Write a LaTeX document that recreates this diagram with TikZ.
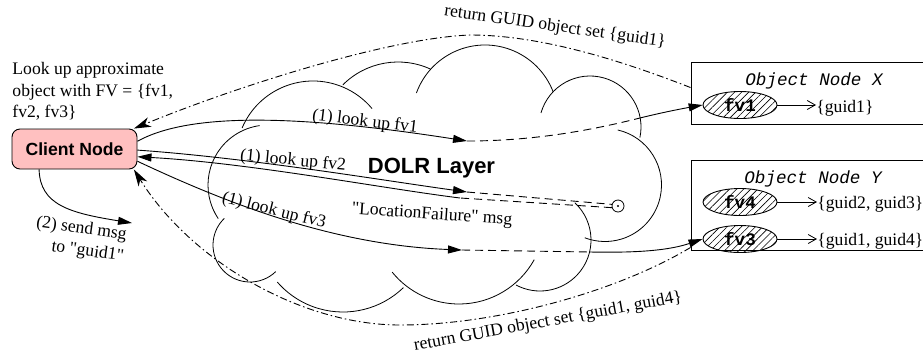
\documentclass[tikz,border=0pt]{standalone}
\usepackage{fontspec}
\setmainfont{Liberation Serif}
\setsansfont{Liberation Sans}
\setmonofont{Liberation Mono}
\newfontfamily\qf{Liberation Serif}
\usetikzlibrary{arrows.meta,patterns.meta,shapes.geometric,calc}
\newcommand\fs{\fontsize{17.6pt}{21.6pt}\selectfont}
\newcommand\dq{{\qf"}}
\definecolor{clientpink}{RGB}{255,192,192}
\newcommand\cloudarc[5]{\draw[cl] (#1,#2) ++(#4:#3) arc[start angle=#4, end angle=#5, radius=#3];}
\begin{document}
\begin{tikzpicture}[x=1pt,y=-1pt,
  line width=0.9pt,
  every node/.style={inner sep=0pt, font=\fs},
  solidarr/.style={-{Triangle[length=14pt,width=8pt]}},
  ddarr/.style={-{Stealth[length=17pt,width=10pt,inset=5pt]}, dash pattern=on 7pt off 3pt on 1.5pt off 3pt},
  dsh/.style={dash pattern=on 8pt off 5pt},
  smallarr/.style={-{Straight Barb[length=8pt,width=9pt]}},
  fvell/.style={ellipse, draw, minimum width=74pt, minimum height=27pt,
    pattern={Lines[angle=45,distance=5pt,line width=0.6pt]}, font=\fs\ttfamily\bfseries},
  objbox/.style={draw, minimum width=250pt},
  cl/.style={line width=0.8pt}
]
\useasboundingbox (0,0) rectangle (923,360);
\clip (0,0) rectangle (923,360);

% cloud (DOLR layer)
\cloudarc{313}{158}{77}{203}{320}
\cloudarc{398}{140}{78}{225}{295}
\cloudarc{485}{118}{73}{200}{339}
\cloudarc{590}{127}{51}{196}{372}
\cloudarc{605}{185}{56.5}{283}{471}
\cloudarc{540}{240}{51}{313}{478}
\cloudarc{459}{218}{86}{29}{141}
\cloudarc{343}{225}{87}{46}{139}
\cloudarc{250}{245}{37}{46}{226}
\cloudarc{268}{185}{60}{146}{262}
\node[font=\fontsize{22pt}{26pt}\selectfont\sffamily\bfseries, anchor=base] (dolr) at (431.5,173) {DOLR Layer};

% client
\node[draw, fill=clientpink, rounded corners=8pt, minimum width=125pt, minimum height=40pt,
  font=\fs\sffamily\bfseries] (client) at (74.5,149) {Client Node};
\node[anchor=north west, align=left] (query) at (12,62) {Look up approximate\\object with FV = \{fv1,\\fv2, fv3\}};

% object nodes
\node[objbox, minimum height=62pt] (boxX) at (816,93) {};
\node[font=\fs\ttfamily\itshape, anchor=base] (labX) at (814,85) {Object Node X};
\node[fvell] (fv1) at (740,105) {fv1};
\node[anchor=base west] (g1) at (816,112) {\{guid1\}};
\draw[smallarr, line width=0.8pt] (fv1.east) -- (fv1.east -| g1.west);

\node[objbox, minimum height=90pt] (boxY) at (816,205) {};
\node[font=\fs\ttfamily\itshape, anchor=base] (labY) at (813,183) {Object Node Y};
\node[fvell] (fv4) at (740,202) {fv4};
\node[fvell] (fv3) at (740,239) {fv3};
\node[anchor=base west] (g23) at (817,208) {\{guid2, guid3\}};
\node[anchor=base west] (g14) at (817,245) {\{guid1, guid4\}};
\draw[smallarr, line width=0.8pt] (fv4.east) -- (fv4.east -| g23.west);
\draw[smallarr, line width=0.8pt] (fv3.east) -- (fv3.east -| g14.west);

% sink
\node[circle, draw, minimum size=12pt, line width=0.8pt] (sink) at (618,206) {};
\fill (sink.center) circle (1.2pt);

% fv1 lookup
\coordinate (a1) at (467,141);
\coordinate (d1) at (640,118);
\draw[solidarr] (client.7.3) .. controls (190,112) and (300,115) .. (a1);
\draw[dsh] (a1) .. controls (540,141) and (600,128) .. (d1);
\draw[solidarr] (d1) .. controls (660,113) and (680,109) .. (fv1.west);
\node[rotate=-6.8] (t1) at (365,122) {(1) look up fv1};

% fv2 lookup
\coordinate (a2) at (467,192);
\coordinate (r2) at (460,198);
\draw[solidarr] (client.-1) .. controls (250,158) and (380,180) .. (a2);
\draw[dsh] (a2) -- (sink.165);
\draw[dsh] (sink.195) -- (r2);
\draw[solidarr] (r2) .. controls (380,188) and (250,163) .. (client.-7.3);
\node[rotate=-5.4] (t2) at (293,161) {(1) look up fv2};
\node[rotate=-4] (tf) at (432,215) {\dq LocationFailure\dq{} msg};

% fv3 lookup
\coordinate (a3) at (462,250);
\coordinate (d3) at (590,252);
\draw[solidarr] (client.-11.8) .. controls (220,200) and (330,245) .. (a3);
\draw[dsh] (a3) -- (d3);
\draw[solidarr] (d3) .. controls (640,253) and (670,250) .. (fv3.west);
\node[rotate=-14] (t3) at (274,211) {(1) look up fv3};

% send msg
\coordinate (s2) at (132,223);
\draw[solidarr] (client.-150.6) .. controls (40,205) and (70,213) .. (s2);
\node[rotate=-8, align=right] (tsend) at (80,240) {(2) send msg\\to \dq guid1\dq};

% returns
\coordinate (tp) at (470,35);
\draw[ddarr] ($(boxX.north west)+(0,26)$) .. controls (620,60) and (540,35) .. (tp)
   .. controls (390,38) and (240,85) .. (client.19.8);
\node[rotate=-8] (rt) at (555,27) {return GUID object set \{guid1\}};

\coordinate (bt) at (400,325);
\draw[ddarr] ($(boxY.south west)+(0,-3)$) .. controls (620,290) and (500,325) .. (bt)
   .. controls (300,325) and (190,260) .. (client.-19.8);
\node[rotate=10.4] (rb) at (548,322) {return GUID object set \{guid1, guid4\}};
\end{tikzpicture}
\end{document}
